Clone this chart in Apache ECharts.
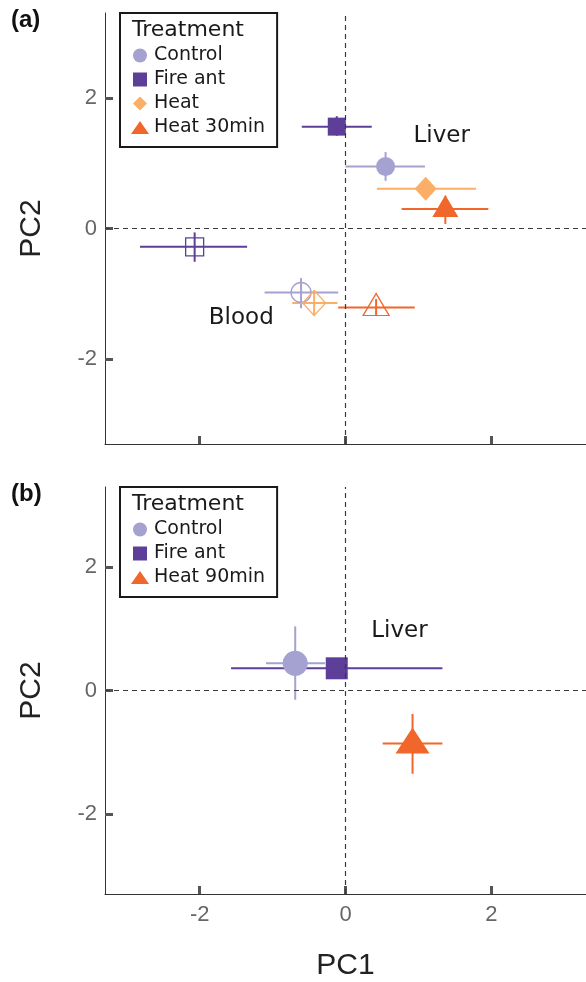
<!DOCTYPE html>
<html><head><meta charset="utf-8">
<script src="https://cdn.jsdelivr.net/npm/echarts@6/dist/echarts.min.js"></script>
<style>html,body{margin:0;padding:0;background:#fff}#c{width:586px;height:982px}</style>
</head><body><div id="c"></div>
<script>
// ---------- data ----------
const treatmentsA = ['Control', 'Fire ant', 'Heat', 'Heat 30min'];
const treatmentsB = ['Control', 'Fire ant', 'Heat 90min'];
// each row: [PC1, PC2, PC1 low, PC1 high, PC2 low, PC2 high]
const liverA = [
  [0.55, 0.95, 0.00, 1.09, 0.73, 1.17],
  [-0.12, 1.56, -0.60, 0.36, 1.42, 1.72],
  [1.10, 0.61, 0.43, 1.79, 0.50, 0.72],
  [1.37, 0.30, 0.77, 1.96, 0.07, 0.50]
];
const bloodA = [
  [-0.61, -0.98, -1.11, -0.10, -1.22, -0.76],
  [-2.07, -0.28, -2.82, -1.35, -0.51, -0.06],
  [-0.43, -1.14, -0.73, -0.11, -1.32, -0.98],
  [0.42, -1.21, -0.10, 0.95, -1.34, -1.08]
];
const liverB = [
  [-0.69, 0.44, -1.09, -0.28, -0.15, 1.04],
  [-0.12, 0.36, -1.57, 1.33, 0.26, 0.46],
  [0.92, -0.86, 0.51, 1.33, -1.35, -0.38]
];
const tickValues = [-2, 0, 2];
const annotationsA = [{ name: 'Liver', value: [1.32, 1.41] }, { name: 'Blood', value: [-1.43, -1.37] }];
const annotationsB = [{ name: 'Liver', value: [0.74, 0.97] }];

// ---------- styles ----------
const colorsA = ['#a5a1d1', '#5d3e98', '#fbae66', '#f1672b'];
const colorsB = ['#a5a1d1', '#5d3e98', '#f1672b'];
const symbolsA = ['circle', 'rect', 'diamond', 'triangle'];
const symbolsB = ['circle', 'rect', 'triangle'];
const filledSizeA = [19, 18, [22, 24], [26, 22]];
const openSizeA = [20, 18, [23, 25], [26, 22]];
const sizeB = [25, 22, [34, 26]];
const sq = 'path://M0,0L1,0L1,1L0,1Z';
const dia = 'path://M0.5,0L1,0.5L0.5,1L0,0.5Z';
const tri = 'path://M0.5,0L1,0.72L0,0.72Z';
const legendIcons = { circle: 'circle', rect: sq, diamond: dia, triangle: tri };

const AX = 'Liberation Sans, Arial, sans-serif';
const DV = 'DejaVu Sans, sans-serif';

function barRenderer(colors) {
  return function (params, api) {
    const col = colors[params.dataIndex];
    const l = api.coord([api.value(2), api.value(1)]);
    const r = api.coord([api.value(3), api.value(1)]);
    const lo = api.coord([api.value(0), api.value(4)]);
    const hi = api.coord([api.value(0), api.value(5)]);
    return {
      type: 'group', children: [
        { type: 'line', shape: { x1: l[0], y1: l[1], x2: r[0], y2: r[1] }, style: { stroke: col, lineWidth: 2 } },
        { type: 'line', shape: { x1: lo[0], y1: lo[1], x2: hi[0], y2: hi[1] }, style: { stroke: col, lineWidth: 2 } }
      ]
    };
  };
}

function xAxisCfg(gi, showLabels, name) {
  return {
    gridIndex: gi, type: 'value', min: -3.3, max: 3.3,
    splitLine: { show: false },
    axisLine: { show: true, onZero: false, lineStyle: { color: '#333', width: 1 } },
    axisTick: { show: true, inside: true, length: 8, customValues: tickValues, lineStyle: { color: '#555', width: 3 } },
    axisLabel: { show: showLabels, customValues: tickValues, margin: 10, color: '#666', fontSize: 22, fontFamily: AX },
    name: name, nameLocation: 'middle', nameGap: 57,
    nameTextStyle: { fontSize: 30, color: '#222', fontFamily: AX }
  };
}
function yAxisCfg(gi) {
  return {
    gridIndex: gi, type: 'value', min: -3.3, max: 3.3,
    splitLine: { show: false },
    axisLine: { show: true, onZero: false, lineStyle: { color: '#333', width: 1 } },
    axisTick: { show: true, inside: true, length: 8, customValues: tickValues, lineStyle: { color: '#555', width: 3 } },
    axisLabel: { show: true, customValues: tickValues, margin: 8, color: '#666', fontSize: 22, fontFamily: AX },
    name: 'PC2', nameLocation: 'middle', nameGap: 58, nameRotate: 90,
    nameTextStyle: { fontSize: 30, color: '#222', fontFamily: AX }
  };
}

const series = [];
// error bars first
series.push({ type: 'custom', xAxisIndex: 0, yAxisIndex: 0, z: 1, data: liverA, renderItem: barRenderer(colorsA), encode: { x: [0, 2, 3], y: [1, 4, 5] }, silent: true });
series.push({ type: 'custom', xAxisIndex: 0, yAxisIndex: 0, z: 1, data: bloodA, renderItem: barRenderer(colorsA), encode: { x: [0, 2, 3], y: [1, 4, 5] }, silent: true });
series.push({ type: 'custom', xAxisIndex: 1, yAxisIndex: 1, z: 1, data: liverB, renderItem: barRenderer(colorsB), encode: { x: [0, 2, 3], y: [1, 4, 5] }, silent: true });

treatmentsA.forEach((t, i) => {
  series.push({
    type: 'scatter', name: t, xAxisIndex: 0, yAxisIndex: 0, z: 3,
    symbol: symbolsA[i], symbolSize: filledSizeA[i], symbolOffset: symbolsA[i] === 'triangle' ? [0, -3] : [0, 0],
    itemStyle: { color: colorsA[i], opacity: 1 },
    data: [liverA[i].slice(0, 2)]
  });
  series.push({
    type: 'scatter', name: t + ' blood', xAxisIndex: 0, yAxisIndex: 0, z: 3,
    symbol: symbolsA[i], symbolSize: openSizeA[i], symbolOffset: symbolsA[i] === 'triangle' ? [0, -3] : [0, 0],
    itemStyle: { color: 'rgba(255,255,255,0)', borderColor: colorsA[i], borderWidth: 1.3, opacity: 1 },
    data: [bloodA[i].slice(0, 2)]
  });
});
treatmentsB.forEach((t, i) => {
  series.push({
    type: 'scatter', name: t, xAxisIndex: 1, yAxisIndex: 1, z: 3,
    symbol: symbolsB[i], symbolSize: sizeB[i], symbolOffset: symbolsB[i] === 'triangle' ? [0, -3] : [0, 0],
    itemStyle: { color: colorsB[i], opacity: 1 },
    data: [liverB[i].slice(0, 2)]
  });
});

const refLines = {
  silent: true, symbol: 'none', label: { show: false },
  lineStyle: { color: '#3a3a3a', type: [5, 4], width: 1.2 },
  data: [{ xAxis: 0 }, { yAxis: 0 }]
};
const annLabel = { show: true, position: 'inside', formatter: '{b}', fontSize: 23, color: '#1a1a1a', fontFamily: DV };
series.push({ type: 'scatter', name: 'annA', xAxisIndex: 0, yAxisIndex: 0, z: 0, symbolSize: 0, itemStyle: { opacity: 1 }, data: annotationsA, label: annLabel, markLine: refLines, silent: true });
series.push({ type: 'scatter', name: 'annB', xAxisIndex: 1, yAxisIndex: 1, z: 0, symbolSize: 0, itemStyle: { opacity: 1 }, data: annotationsB, label: annLabel, markLine: refLines, silent: true });

function legendCfg(top, names, symbols) {
  return {
    orient: 'vertical', left: 120, top: top,
    backgroundColor: '#fff', borderColor: '#1a1a1a', borderWidth: 2,
    padding: [33, 12, 10, 11],
    itemWidth: 18, itemHeight: 14, itemGap: 5, symbolKeepAspect: true,
    selectedMode: false,
    textStyle: { fontSize: 19, color: '#1a1a1a', fontFamily: DV },
    data: names.map((n, i) => ({ name: n, icon: legendIcons[symbols[i]] }))
  };
}

const option = {
  animation: false,
  backgroundColor: '#fff',
  grid: [
    { left: 105, top: 13, width: 481, height: 431 },
    { left: 105, top: 487, width: 481, height: 409 }
  ],
  xAxis: [xAxisCfg(0, false, ''), xAxisCfg(1, true, 'PC1')],
  yAxis: [yAxisCfg(0), yAxisCfg(1)],
  legend: [legendCfg(13, treatmentsA, symbolsA), legendCfg(487, treatmentsB, symbolsB)],
  title: [
    { text: '(a)', left: 11, top: 8, padding: 0, textStyle: { fontSize: 24, fontWeight: 'bold', color: '#111', fontFamily: AX } },
    { text: '(b)', left: 11, top: 482, padding: 0, textStyle: { fontSize: 24, fontWeight: 'bold', color: '#111', fontFamily: AX } },
    { text: 'Treatment', left: 132, top: 19, padding: 0, z: 10, textStyle: { fontSize: 22, fontWeight: 'normal', color: '#1a1a1a', fontFamily: DV } },
    { text: 'Treatment', left: 132, top: 493, padding: 0, z: 10, textStyle: { fontSize: 22, fontWeight: 'normal', color: '#1a1a1a', fontFamily: DV } }
  ],
  series: series
};
const chart = echarts.init(document.getElementById('c'), null, { renderer: 'canvas' });
chart.setOption(option);
</script></body></html>
